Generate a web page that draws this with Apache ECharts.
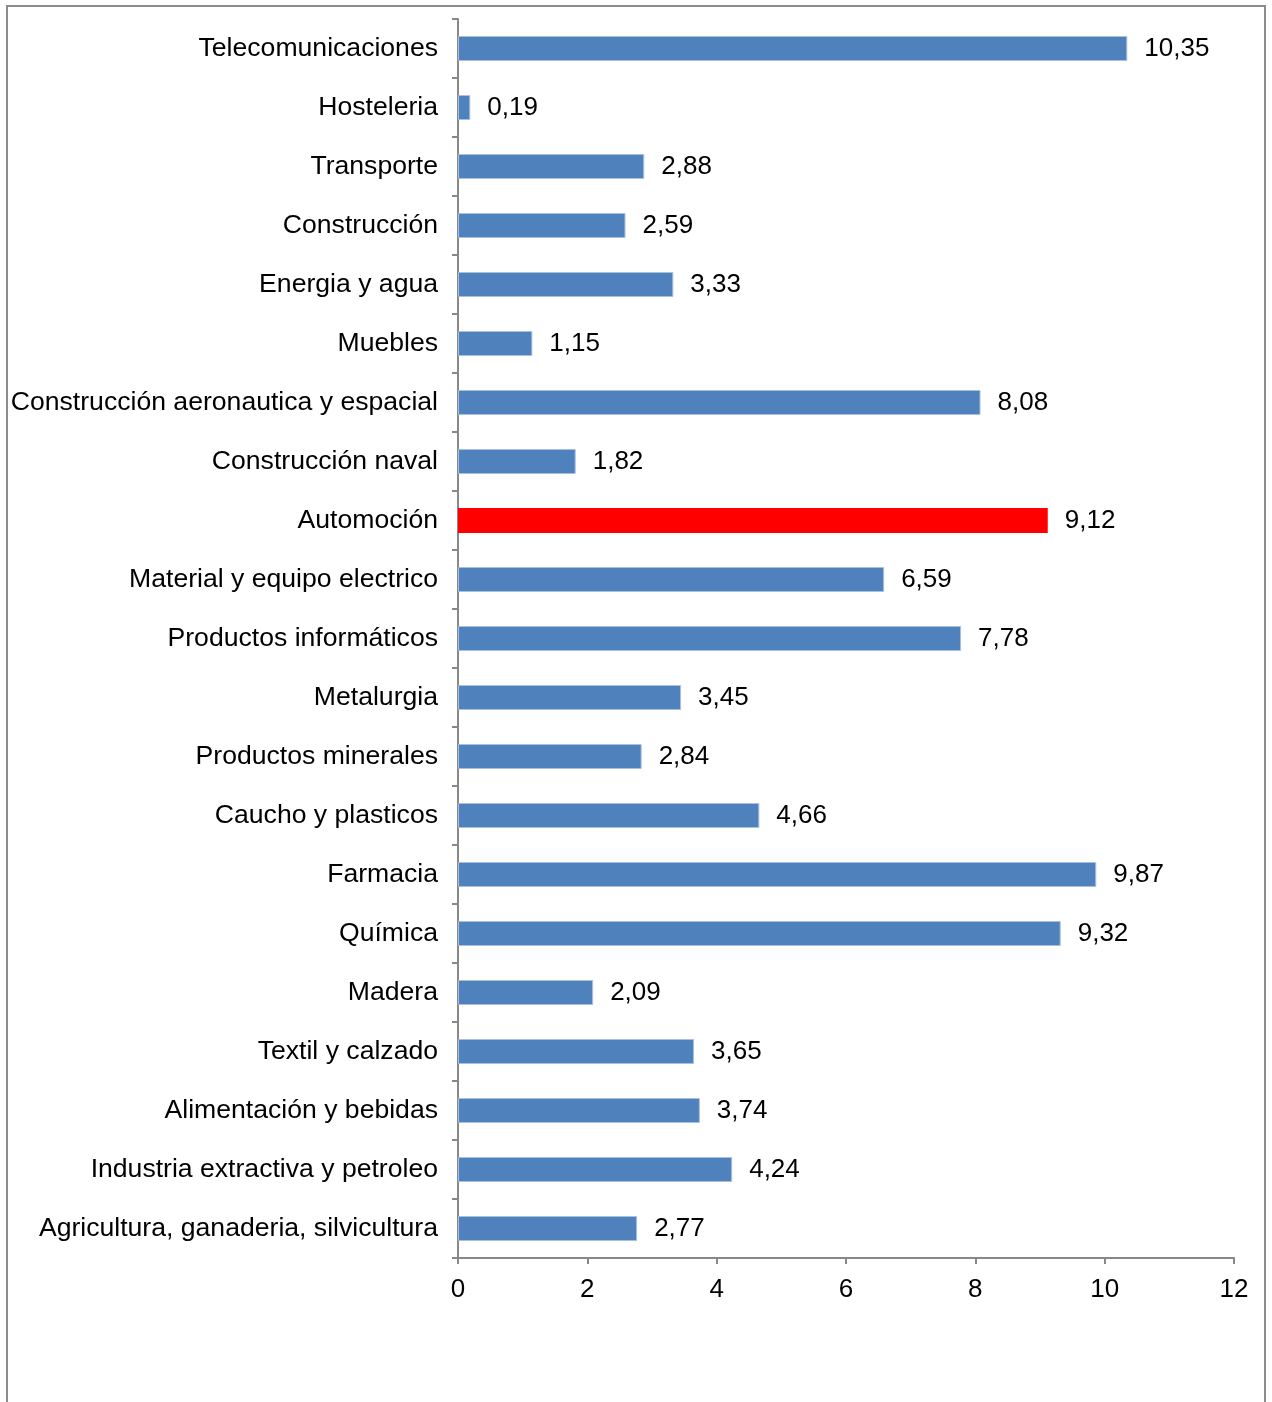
<!DOCTYPE html>
<html><head><meta charset="utf-8">
<script src="https://cdn.jsdelivr.net/npm/echarts@6/dist/echarts.min.js"></script>
<style>html,body{margin:0;padding:0;background:#fff;}#c{width:1272px;height:1402px;}</style>
</head><body><div id="c"></div>
<script>
// bottom to top
const categories = [
  "Agricultura, ganaderia, silvicultura",
  "Industria extractiva y petroleo",
  "Alimentación y bebidas",
  "Textil y calzado",
  "Madera",
  "Química",
  "Farmacia",
  "Caucho y plasticos",
  "Productos minerales",
  "Metalurgia",
  "Productos informáticos",
  "Material y equipo electrico",
  "Automoción",
  "Construcción naval",
  "Construcción aeronautica y espacial",
  "Muebles",
  "Energia y agua",
  "Construcción",
  "Transporte",
  "Hosteleria",
  "Telecomunicaciones"
];
const values = [2.77, 4.24, 3.74, 3.65, 2.09, 9.32, 9.87, 4.66, 2.84, 3.45, 7.78, 6.59, 9.12, 1.82, 8.08, 1.15, 3.33, 2.59, 2.88, 0.19, 10.35];
const highlight = "Automoción";
const xTicks = [0, 2, 4, 6, 8, 10, 12];

const chart = echarts.init(document.getElementById('c'), null, {renderer: 'canvas'});
const font = 'Liberation Sans, Arial, sans-serif';
chart.setOption({
  animation: false,
  backgroundColor: '#fff',
  graphic: [{
    type: 'polyline',
    shape: {points: [[7, 1410], [7, 6], [1265, 6], [1265, 1410]]},
    style: {stroke: '#8c8c8c', lineWidth: 2, fill: null}
  }],
  grid: {left: 458, right: 38, top: 19, bottom: 144, containLabel: false},
  xAxis: {
    type: 'value', min: xTicks[0], max: xTicks[xTicks.length - 1], interval: 2,
    axisLine: {show: true, lineStyle: {color: '#888', width: 2}},
    axisTick: {show: true, length: 6, lineStyle: {color: '#888', width: 2}},
    splitLine: {show: false},
    axisLabel: {color: '#000', fontSize: 26, fontFamily: font, margin: 19,
      formatter: v => String(v)}
  },
  yAxis: {
    type: 'category', data: categories,
    axisLine: {show: true, lineStyle: {color: '#888', width: 2}},
    axisTick: {show: true, length: 6, lineStyle: {color: '#888', width: 2}},
    axisLabel: {color: '#000', fontSize: 26.6, fontFamily: font, margin: 20}
  },
  series: [{
    type: 'bar',
    data: values.map((v, i) => ({
      value: v,
      itemStyle: categories[i] === highlight
        ? {color: '#ff0000', borderColor: '#ff0000', borderWidth: 0}
        : {color: '#4f81bd', borderColor: '#a7c0de', borderWidth: 1}
    })),
    barWidth: 25,
    label: {show: true, position: 'right', distance: 17, color: '#000', fontSize: 26,
      fontFamily: font, formatter: p => p.value.toFixed(2).replace('.', ',')}
  }]
});
</script></body></html>
